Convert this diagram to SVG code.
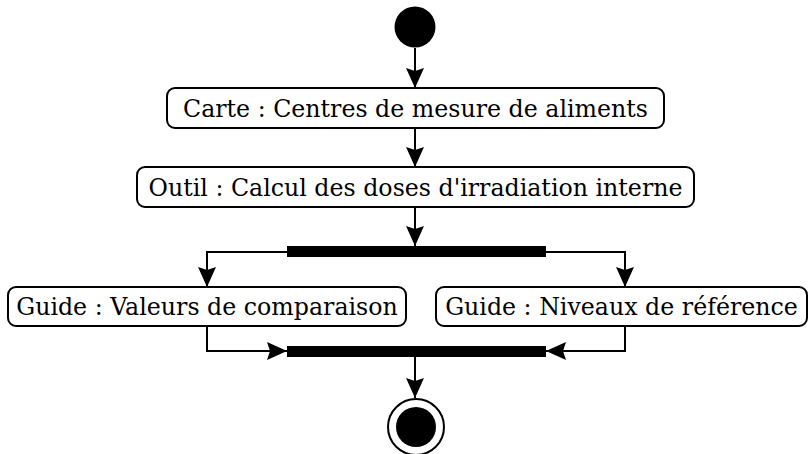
<svg xmlns="http://www.w3.org/2000/svg" width="809" height="454" viewBox="0 0 809 454">
<style>
.box{fill:#fff;stroke:#000;stroke-width:2}
.lbl{font-family:"DejaVu Serif",serif;font-size:23.7px;fill:#000;text-anchor:middle}
.edge{fill:none;stroke:#000;stroke-width:2}
.bar{fill:#000}
</style>
<defs>
<marker id="arr" viewBox="0 0 20 18" markerWidth="20" markerHeight="18" refX="20" refY="9" orient="auto" markerUnits="userSpaceOnUse">
<path d="M0,0 L20,9 L0,18 L3,9 z" fill="#000"/>
</marker>
</defs>
<rect width="809" height="454" fill="#fff"/>
<g id="connectors">
<path class="edge" d="M415,48 L415,88" marker-end="url(#arr)"/>
<path class="edge" d="M415,128 L415,167" marker-end="url(#arr)"/>
<path class="edge" d="M415,207 L415,246" marker-end="url(#arr)"/>
<path class="edge" d="M287,252 L207,252 L207,287" marker-end="url(#arr)"/>
<path class="edge" d="M546,252 L625,252 L625,287" marker-end="url(#arr)"/>
<path class="edge" d="M207,326 L207,351 L287,351" marker-end="url(#arr)"/>
<path class="edge" d="M625,326 L625,351 L546,351" marker-end="url(#arr)"/>
<path class="edge" d="M415,357 L415,398" marker-end="url(#arr)"/>
</g>
<g id="start"><circle cx="415" cy="27" r="20.5" fill="#000"/></g>
<g id="carte">
<rect class="box" x="167" y="88" width="497" height="40" rx="8"/>
<text class="lbl" x="415.5" y="117">Carte : Centres de mesure de aliments</text>
</g>
<g id="outil">
<rect class="box" x="137" y="167" width="557" height="40" rx="8"/>
<text class="lbl" x="415.5" y="196">Outil : Calcul des doses d'irradiation interne</text>
</g>
<g id="fork"><rect class="bar" x="287" y="246" width="259" height="11"/></g>
<g id="guide1">
<rect class="box" x="8" y="287" width="398" height="39" rx="8"/>
<text class="lbl" x="207" y="315">Guide : Valeurs de comparaison</text>
</g>
<g id="guide2">
<rect class="box" x="436" y="287" width="371" height="39" rx="8"/>
<text class="lbl" x="621.5" y="315">Guide : Niveaux de référence</text>
</g>
<g id="join"><rect class="bar" x="287" y="346" width="259" height="11"/></g>
<g id="end">
<circle cx="416" cy="427" r="28" fill="#fff" stroke="#000" stroke-width="2"/>
<circle cx="416" cy="427" r="20" fill="#000"/>
</g>
</svg>
